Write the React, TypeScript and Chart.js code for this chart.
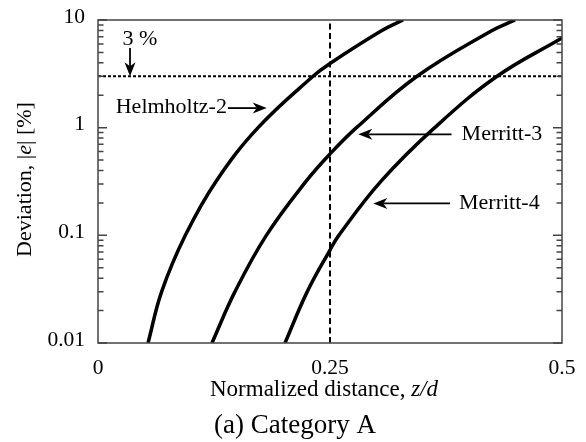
import React, { useEffect, useRef } from 'react';
import { Chart, registerables } from 'chart.js';

Chart.register(...registerables);

// ---- data ----
const xTickValues = [0, 0.25, 0.5];
const xTickLabels = ['0', '0.25', '0.5'];
const yTickValues = [0.01, 0.1, 1, 10];
const yTickLabels = ['0.01', '0.1', '1', '10'];
const yMinorSteps = [1, 2, 3, 4, 5, 6, 7, 8, 9];

const helmholtzZ = [0.0539, 0.0686, 0.0941, 0.1275, 0.1725, 0.2317, 0.25, 0.305, 0.3287];
const helmholtzE = [0.01, 0.03, 0.1, 0.32, 1.0, 3.0, 3.95, 7.9, 10];

const merritt3Z = [0.1228, 0.1476, 0.1814, 0.2245, 0.25, 0.2785, 0.3438, 0.4237, 0.4494];
const merritt3E = [0.01, 0.03, 0.1, 0.32, 0.57, 1.0, 3.0, 7.9, 10];

const merritt4Z = [0.2015, 0.2255, 0.25, 0.2595, 0.3053, 0.3628, 0.43, 0.5];
const merritt4E = [0.01, 0.03, 0.073, 0.1, 0.32, 1.0, 3.0, 6.8];

const thresholdValue = 3; // 3 %
const referenceDistance = 0.25;

const annotations = [
  { label: '3 %', tip: [0.0345, 3], tail: [0.0345, 5.5], align: 'center', dx: 10, dy: -9 },
  { label: 'Helmholtz-2', tip: [0.1818, 1.52], tail: [0.14, 1.52], align: 'right', dx: 0, dy: -1 },
  { label: 'Merritt-3', tip: [0.2805, 0.868], tail: [0.381, 0.868], align: 'left', dx: 10, dy: 0 },
  { label: 'Merritt-4', tip: [0.2967, 0.198], tail: [0.3793, 0.198], align: 'left', dx: 9, dy: 0 },
];

const FONT = "'Liberation Serif', 'Times New Roman', serif";

const toPoints = (zs: number[], es: number[]) => zs.map((z, i) => ({ x: z, y: es[i] }));

function isDecade(v: number) {
  return yTickValues.some((d) => Math.abs(d - v) < d * 1e-6);
}

function drawArrow(ctx: CanvasRenderingContext2D, x1: number, y1: number, x2: number, y2: number) {
  const ang = Math.atan2(y2 - y1, x2 - x1);
  const headLen = 14;
  const halfW = 5.5;
  const notch = 4;
  ctx.beginPath();
  ctx.moveTo(x1, y1);
  ctx.lineTo(x2 - Math.cos(ang) * (headLen - notch), y2 - Math.sin(ang) * (headLen - notch));
  ctx.stroke();
  const bx = x2 - Math.cos(ang) * headLen;
  const by = y2 - Math.sin(ang) * headLen;
  const nx = x2 - Math.cos(ang) * (headLen - notch);
  const ny = y2 - Math.sin(ang) * (headLen - notch);
  const px = -Math.sin(ang) * halfW;
  const py = Math.cos(ang) * halfW;
  ctx.beginPath();
  ctx.moveTo(x2, y2);
  ctx.lineTo(bx + px, by + py);
  ctx.lineTo(nx, ny);
  ctx.lineTo(bx - px, by - py);
  ctx.closePath();
  ctx.fill();
}

function drawMixed(
  ctx: CanvasRenderingContext2D,
  parts: { t: string; italic?: boolean }[],
  size: number,
  cx: number,
  cy: number,
  baseline: CanvasTextBaseline
) {
  const fonts = parts.map((p) => `${p.italic ? 'italic ' : ''}${size}px ${FONT}`);
  const widths = parts.map((p, i) => {
    ctx.font = fonts[i];
    return ctx.measureText(p.t).width;
  });
  const total = widths.reduce((a, b) => a + b, 0);
  let x = cx - total / 2;
  ctx.textAlign = 'left';
  ctx.textBaseline = baseline;
  parts.forEach((p, i) => {
    ctx.font = fonts[i];
    ctx.fillText(p.t, x, cy);
    x += widths[i];
  });
}

const decorPlugin = {
  id: 'paperDecor',
  afterDraw(chart: any) {
    const { ctx, chartArea: a, scales } = chart;
    const xs = scales.x;
    const ys = scales.y;
    ctx.save();

    // frame
    ctx.strokeStyle = '#444';
    ctx.lineWidth = 1.5;
    ctx.strokeRect(a.left, a.top, a.right - a.left, a.bottom - a.top);

    // inward y ticks on both sides
    ys.ticks.forEach((t: any) => {
      const py = ys.getPixelForValue(t.value);
      const len = isDecade(t.value) ? 9 : 5.5;
      ctx.beginPath();
      ctx.moveTo(a.left, py);
      ctx.lineTo(a.left + len, py);
      ctx.moveTo(a.right, py);
      ctx.lineTo(a.right - len, py);
      ctx.stroke();
    });

    // annotations
    ctx.fillStyle = '#000';
    ctx.strokeStyle = '#000';
    ctx.lineWidth = 1.8;
    annotations.forEach((an) => {
      const tx = xs.getPixelForValue(an.tip[0]);
      const ty = ys.getPixelForValue(an.tip[1]);
      const sx = xs.getPixelForValue(an.tail[0]);
      const sy = ys.getPixelForValue(an.tail[1]);
      drawArrow(ctx, sx, sy, tx, ty);
      ctx.font = `22px ${FONT}`;
      ctx.textAlign = an.align as CanvasTextAlign;
      ctx.textBaseline = 'middle';
      ctx.fillText(an.label, sx + (an.align === 'right' ? -1 : an.dx), sy + an.dy);
    });

    // axis titles
    ctx.fillStyle = '#000';
    drawMixed(
      ctx,
      [{ t: 'Normalized distance, ' }, { t: 'z/d', italic: true }],
      23,
      a.left + (a.right - a.left) / 2 - 6,
      396,
      'alphabetic'
    );
    ctx.save();
    ctx.translate(25, a.top + (a.bottom - a.top) / 2 - 2);
    ctx.rotate(-Math.PI / 2);
    drawMixed(
      ctx,
      [{ t: 'Deviation, |' }, { t: 'e', italic: true }, { t: '| [%]' }],
      22,
      0,
      0,
      'middle'
    );
    ctx.restore();

    // caption
    ctx.font = `27px ${FONT}`;
    ctx.textAlign = 'center';
    ctx.textBaseline = 'alphabetic';
    ctx.fillText('(a) Category A', chart.width / 2 + 2, 433);

    ctx.restore();
  },
};

export default function App() {
  const ref = useRef<HTMLCanvasElement | null>(null);

  useEffect(() => {
    if (!ref.current) return;
    const curve = (label: string, zs: number[], es: number[]) => ({
      label,
      data: toPoints(zs, es),
      borderColor: '#000',
      backgroundColor: '#000',
      borderWidth: 3.5,
      pointRadius: 0,
      tension: 0.4,
      fill: false,
    });
    const chart = new Chart(ref.current, {
      type: 'line',
      data: {
        datasets: [
          curve('Helmholtz-2', helmholtzZ, helmholtzE),
          curve('Merritt-3', merritt3Z, merritt3E),
          curve('Merritt-4', merritt4Z, merritt4E),
          {
            label: '3 %',
            data: [
              { x: xTickValues[0], y: thresholdValue },
              { x: xTickValues[xTickValues.length - 1], y: thresholdValue },
            ],
            borderColor: '#000',
            borderWidth: 2,
            borderDash: [3, 2],
            pointRadius: 0,
            tension: 0,
            fill: false,
          },
          {
            label: 'z/d = 0.25',
            data: [
              { x: referenceDistance, y: yTickValues[0] },
              { x: referenceDistance, y: yTickValues[yTickValues.length - 1] },
            ],
            borderColor: '#000',
            borderWidth: 2,
            borderDash: [6, 3.5],
            pointRadius: 0,
            tension: 0,
            fill: false,
          },
        ],
      },
      options: {
        animation: false,
        responsive: false,
        layout: { padding: { left: 0, top: 20, right: 24, bottom: 0 } },
        plugins: {
          legend: { display: false },
          tooltip: { enabled: false },
          title: { display: false },
        },
        scales: {
          x: {
            type: 'linear',
            min: xTickValues[0],
            max: xTickValues[xTickValues.length - 1],
            grid: { display: false, drawTicks: false },
            border: { display: false },
            afterBuildTicks: (scale: any) => {
              scale.ticks = xTickValues.map((v) => ({ value: v }));
            },
            afterFit: (scale: any) => {
              scale.height = 99;
              scale.paddingLeft = 0;
              scale.paddingRight = 0;
            },
            ticks: {
              autoSkip: false,
              maxRotation: 0,
              padding: 12,
              color: '#000',
              font: { family: FONT, size: 21.5 },
              callback: (value: any) => {
                const i = xTickValues.findIndex((v) => Math.abs(v - Number(value)) < 1e-9);
                return i >= 0 ? xTickLabels[i] : '';
              },
            },
          },
          y: {
            type: 'logarithmic',
            min: yTickValues[0],
            max: yTickValues[yTickValues.length - 1],
            grid: { display: false, drawTicks: false },
            border: { display: false },
            afterBuildTicks: (scale: any) => {
              const ticks: { value: number }[] = [];
              for (let d = 0; d < yTickValues.length - 1; d++) {
                yMinorSteps.forEach((m) => ticks.push({ value: yTickValues[d] * m }));
              }
              ticks.push({ value: yTickValues[yTickValues.length - 1] });
              scale.ticks = ticks;
            },
            afterFit: (scale: any) => {
              scale.width = 98;
              scale.paddingTop = 0;
              scale.paddingBottom = 0;
            },
            ticks: {
              autoSkip: false,
              padding: 13,
              labelOffset: -3,
              color: '#000',
              font: { family: FONT, size: 21.5 },
              callback: (value: any) => {
                const v = Number(value);
                const i = yTickValues.findIndex((d) => Math.abs(d - v) < d * 1e-6);
                return i >= 0 ? yTickLabels[i] : '';
              },
            },
          },
        },
      } as any,
      plugins: [decorPlugin],
    });
    return () => chart.destroy();
  }, []);

  return (
    <div style={{ position: 'fixed', left: 0, top: 0, width: 586, height: 442, background: '#fff' }}>
      <canvas ref={ref} width={586} height={442} style={{ display: 'block' }} />
    </div>
  );
}
